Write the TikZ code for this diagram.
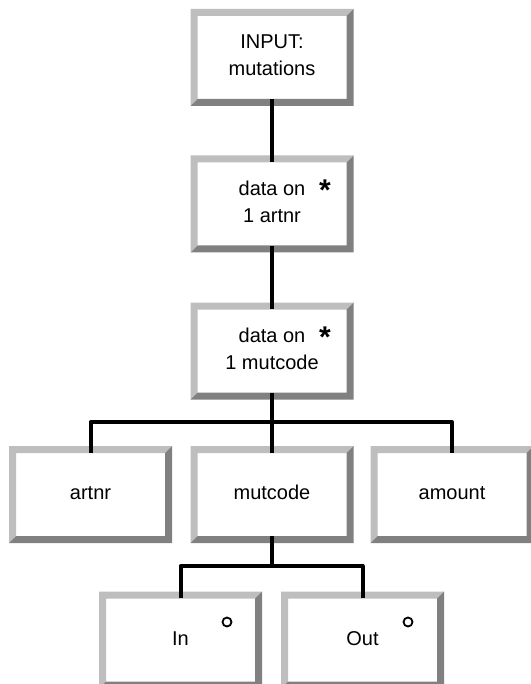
\documentclass[tikz,border=0pt]{standalone}
\usepackage{fontspec}
\setmainfont{Liberation Sans}
\definecolor{bevlight}{HTML}{BEBEBE}
\definecolor{bevdark}{HTML}{808080}
\tikzset{
  box/.style={minimum width=163pt, minimum height=97pt, inner sep=0pt, fill=white,
    align=center, font=\fontsize{20}{27}\selectfont,
    execute at begin node={\rule{0pt}{15pt}},
    execute at end node={\rule[-5pt]{0pt}{5pt}},
    path picture={
      \fill[bevlight] (path picture bounding box.north west) -- (path picture bounding box.north east)
        -- ([shift={(-7pt,-7pt)}]path picture bounding box.north east)
        -- ([shift={(7pt,-7pt)}]path picture bounding box.north west)
        -- ([shift={(7pt,7pt)}]path picture bounding box.south west)
        -- (path picture bounding box.south west) -- cycle;
      \fill[bevdark] (path picture bounding box.north east) -- (path picture bounding box.south east)
        -- (path picture bounding box.south west)
        -- ([shift={(7pt,7pt)}]path picture bounding box.south west)
        -- ([shift={(-7pt,7pt)}]path picture bounding box.south east)
        -- ([shift={(-7pt,-7pt)}]path picture bounding box.north east) -- cycle;
    }},
  link/.style={line width=4pt, line join=round},
  startag/.style={font=\fontsize{30}{30}\selectfont\bfseries, inner sep=0pt},
  ringtag/.style={circle, draw, line width=1.8pt, minimum size=9pt, inner sep=0pt},
}
\begin{document}
\begin{tikzpicture}[x=1pt,y=-1pt]
\useasboundingbox (0,0) rectangle (530,684);
\node[box] (b1) at (272,57.5) {INPUT:\\mutations};
\node[box] (b2) at (272,204) {data on\\1 artnr};
\node[box] (b3) at (272,351) {data on\\1 mutcode};
\node[box] (artnr) at (90.5,494.5) {artnr};
\node[box] (mutcode) at (272,494.5) {mutcode};
\node[box] (amount) at (452,494.5) {amount};
\node[box] (in) at (180.5,640) {In};
\node[box] (out) at (362.5,640) {Out};
\node[startag] (s2) at (325,190) {*};
\node[startag] (s3) at (325,337) {*};
\node[ringtag] (r1) at (227,622) {};
\node[ringtag] (r2) at (408,622) {};
\coordinate (j1) at (272,422);
\coordinate (j2) at (272,566);
\draw[link] ([yshift=7pt]b1.south) -- ([yshift=-7pt]b2.north);
\draw[link] ([yshift=7pt]b2.south) -- ([yshift=-7pt]b3.north);
\draw[link] ([yshift=7pt]b3.south) -- ([yshift=-7pt]mutcode.north);
\draw[link] ([yshift=-7pt]artnr.north) |- (j1) -| ([yshift=-7pt]amount.north);
\draw[link] ([yshift=7pt]mutcode.south) -- (j2);
\draw[link] ([yshift=-7pt]in.north) |- (j2) -| ([yshift=-7pt]out.north);
\end{tikzpicture}
\end{document}
